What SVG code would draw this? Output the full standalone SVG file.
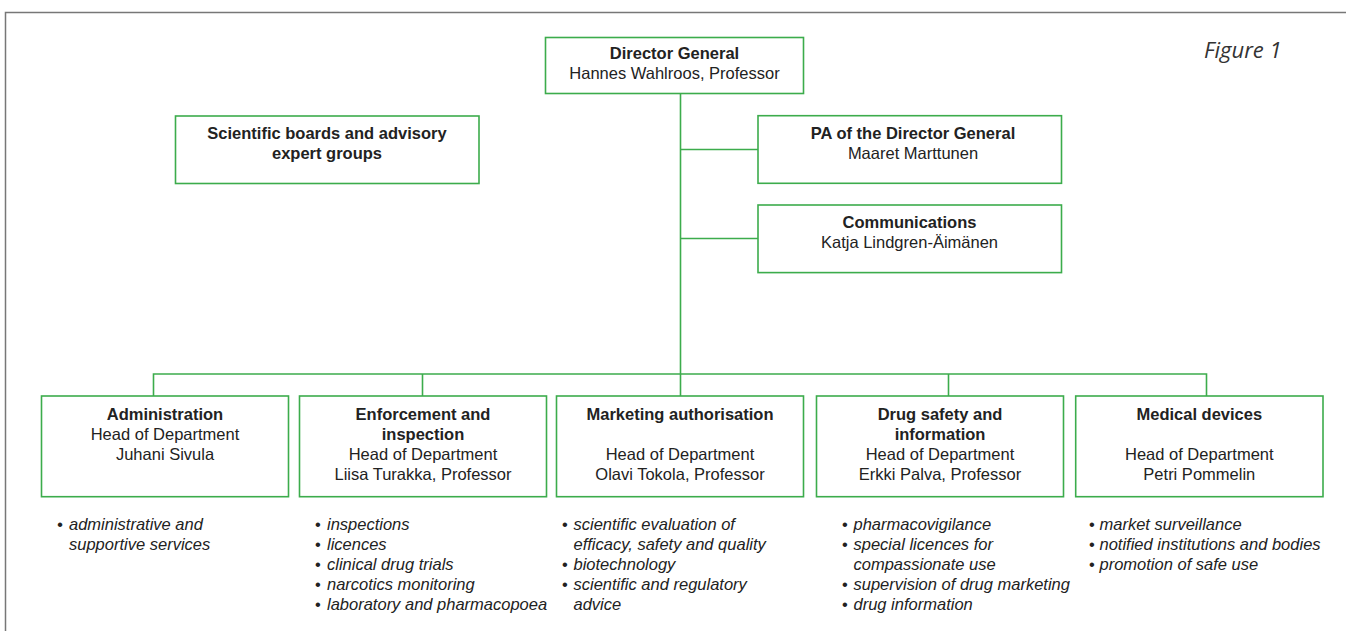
<svg xmlns="http://www.w3.org/2000/svg" width="1346" height="631" viewBox="0 0 1346 631">
<style>
.box{fill:#fff;stroke:#3cac4c;stroke-width:1.6}
.con{fill:none;stroke:#3cac4c;stroke-width:1.6}
text{font-family:"Liberation Sans",Arial,sans-serif;font-size:16.5px;fill:#222}
.c{text-anchor:middle}
.b{font-weight:bold}
.i{font-style:italic}
.fig{font-family:"Open Sans","DejaVu Sans",sans-serif;font-style:italic;font-size:22px;fill:#333}
</style>
<rect x="0" y="0" width="1346" height="631" fill="#fff"/>
<path d="M5.5,700 V12.5 H1400" fill="none" stroke="#777" stroke-width="1.5"/>
<text class="fig" x="1204" y="58">Figure 1</text>
<g id="connectors">
<path class="con" d="M680.5,94 V396"/>
<path class="con" d="M680.5,149.5 H758"/>
<path class="con" d="M680.5,238.5 H758"/>
<path class="con" d="M153.5,396 V374 H1206.5 V396"/>
<path class="con" d="M422.5,374 V396"/>
<path class="con" d="M948.5,374 V396"/>
</g>
<g id="director-general">
<rect class="box" x="545.5" y="37.5" width="258" height="56"/>
<text class="c b" x="674.5" y="58.5">Director General</text>
<text class="c" x="674.5" y="78.5">Hannes Wahlroos, Professor</text>
</g>
<g id="scientific-boards">
<rect class="box" x="175.5" y="116" width="303.5" height="67.5"/>
<text class="c b" x="327" y="138.5">Scientific boards and advisory</text>
<text class="c b" x="327" y="158.5">expert groups</text>
</g>
<g id="pa">
<rect class="box" x="758" y="115.7" width="303.5" height="67.6"/>
<text class="c b" x="913" y="138.5">PA of the Director General</text>
<text class="c" x="913" y="158.5">Maaret Marttunen</text>
</g>
<g id="communications">
<rect class="box" x="758" y="205" width="303.5" height="67.6"/>
<text class="c b" x="909.5" y="227.7">Communications</text>
<text class="c" x="909.5" y="247.7">Katja Lindgren-Äimänen</text>
</g>
<g id="administration">
<rect class="box" x="41.5" y="396" width="247" height="100.7"/>
<text class="c b" x="165" y="419.5">Administration</text>
<text class="c" x="165" y="440">Head of Department</text>
<text class="c" x="165" y="460">Juhani Sivula</text>
<text class="i" x="57" y="530">•</text>
<text class="i" x="69" y="530">administrative and</text>
<text class="i" x="69" y="550">supportive services</text>
</g>
<g id="enforcement">
<rect class="box" x="299.5" y="396" width="247" height="100.7"/>
<text class="c b" x="423" y="419.5">Enforcement and</text>
<text class="c b" x="423" y="440">inspection</text>
<text class="c" x="423" y="460">Head of Department</text>
<text class="c" x="423" y="480">Liisa Turakka, Professor</text>
<text x="315" y="530">•</text><text class="i" x="327" y="530">inspections</text>
<text x="315" y="550">•</text><text class="i" x="327" y="550">licences</text>
<text x="315" y="570">•</text><text class="i" x="327" y="570">clinical drug trials</text>
<text x="315" y="590">•</text><text class="i" x="327" y="590">narcotics monitoring</text>
<text x="315" y="610">•</text><text class="i" x="327" y="610">laboratory and pharmacopoea</text>
</g>
<g id="marketing">
<rect class="box" x="556.5" y="396" width="247" height="100.7"/>
<text class="c b" x="680" y="419.5">Marketing authorisation</text>
<text class="c" x="680" y="460">Head of Department</text>
<text class="c" x="680" y="480">Olavi Tokola,  Professor</text>
<text x="562" y="530">•</text><text class="i" x="573.5" y="530">scientific evaluation of</text>
<text class="i" x="573.5" y="550">efficacy, safety and quality</text>
<text x="562" y="570">•</text><text class="i" x="573.5" y="570">biotechnology</text>
<text x="562" y="590">•</text><text class="i" x="573.5" y="590">scientific and regulatory</text>
<text class="i" x="573.5" y="610">advice</text>
</g>
<g id="drug-safety">
<rect class="box" x="816.5" y="396" width="247" height="100.7"/>
<text class="c b" x="940" y="419.5">Drug safety and</text>
<text class="c b" x="940" y="440">information</text>
<text class="c" x="940" y="460">Head of Department</text>
<text class="c" x="940" y="480">Erkki Palva, Professor</text>
<text x="842" y="530">•</text><text class="i" x="853.5" y="530">pharmacovigilance</text>
<text x="842" y="550">•</text><text class="i" x="853.5" y="550">special licences for</text>
<text class="i" x="853.5" y="570">compassionate use</text>
<text x="842" y="590">•</text><text class="i" x="853.5" y="590">supervision of drug marketing</text>
<text x="842" y="610">•</text><text class="i" x="853.5" y="610">drug information</text>
</g>
<g id="medical-devices">
<rect class="box" x="1075.7" y="396" width="247.3" height="100.7"/>
<text class="c b" x="1199.3" y="419.5">Medical devices</text>
<text class="c" x="1199.3" y="460">Head of Department</text>
<text class="c" x="1199.3" y="480">Petri Pommelin</text>
<text x="1089" y="530">•</text><text class="i" x="1099.5" y="530">market surveillance</text>
<text x="1089" y="550">•</text><text class="i" x="1099.5" y="550">notified institutions and bodies</text>
<text x="1089" y="570">•</text><text class="i" x="1099.5" y="570">promotion of safe use</text>
</g>
</svg>
